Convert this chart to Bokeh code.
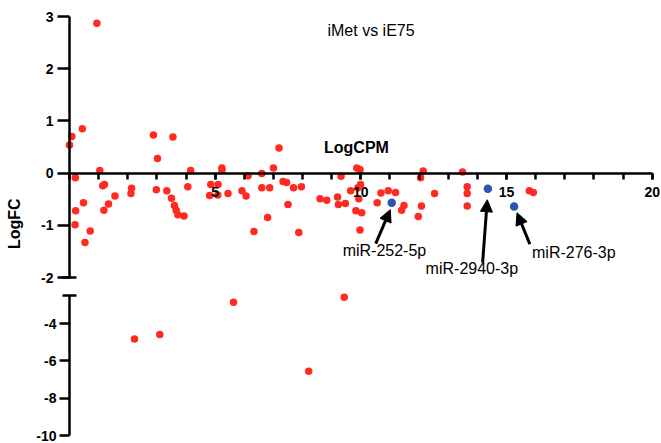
import numpy as np
from bokeh.plotting import figure
from bokeh.core.properties import value
from bokeh.models import (LinearAxis, SingleIntervalTicker, FixedTicker, Label, Arrow,
                          NormalHead, Range1d)
from bokeh.layouts import column
from bokeh.embed import file_html
from bokeh.resources import INLINE

# ---------------- data ----------------
logcpm = [0.94, 0.44, 0.08, 0.00, 2.88, 3.55, 3.02, 1.04, 4.16, 0.20,
          1.14, 1.20, 2.13, 2.11, 1.56, 1.34, 1.18, 0.48, 0.21, 0.19,
          0.71, 0.53, 2.98, 3.34, 3.50, 3.60, 3.66, 3.72, 3.93, 4.06,
          4.85, 4.81, 7.19, 5.23, 5.23, 7.00, 6.13, 6.60, 5.10, 5.09,
          5.44, 5.92, 6.06, 6.60, 6.87, 7.33, 7.45, 7.69, 7.96, 7.50,
          6.80, 6.33, 7.87, 8.60, 8.83, 9.20, 9.23, 9.47, 9.32, 9.86,
          9.97, 9.65, 9.90, 9.99, 9.93, 9.83, 10.03, 9.97, 10.56, 10.69,
          10.94, 11.19, 11.48, 11.40, 12.08, 11.97, 12.14, 12.05, 12.53, 13.49,
          13.65, 13.65, 13.65, 15.78, 15.92,
          2.23, 3.10, 5.63, 9.43, 8.21]
logfc = [2.87, 0.85, 0.70, 0.54, 0.73, 0.69, 0.28, 0.05, 0.05, -0.09,
         -0.24, -0.22, -0.29, -0.39, -0.44, -0.59, -0.71, -0.57, -0.72, -0.99,
         -1.11, -1.33, -0.32, -0.34, -0.48, -0.62, -0.71, -0.80, -0.82, -0.26,
         -0.22, -0.43, 0.48, 0.10, 0.06, 0.10, -0.05, -0.01, -0.22, -0.42,
         -0.39, -0.34, -0.44, -0.28, -0.28, -0.16, -0.18, -0.28, -0.26, -0.60,
         -0.85, -1.12, -1.14, -0.49, -0.52, -0.46, -0.60, -0.58, -0.06, 0.10,
         0.07, -0.34, -0.28, -0.22, -0.49, -0.72, -0.76, -1.09, -0.57, -0.38,
         -0.34, -0.37, -0.62, -0.71, -0.63, -0.83, 0.04, -0.09, -0.39, 0.02,
         -0.26, -0.39, -0.63, -0.34, -0.37,
         -4.83, -4.59, -2.86, -2.59, -6.56]

hl_names = ["miR-252-5p", "miR-2940-3p", "miR-276-3p"]
hl_logcpm = [11.06, 14.36, 15.26]
hl_logfc = [-0.57, -0.30, -0.64]

upper_yticks = [-2, -1, 0, 1, 2, 3]
lower_yticks = [-10, -8, -6, -4]

# ---------------- layout constants ----------------
FONT = "Liberation Sans"
W = 661
H1, H2 = 286, 157
XPX = (651.7 - 69) / 20
X0 = -69 / XPX
X1 = X0 + W / XPX
xr = Range1d(X0, X1)

Y1PX = 52.2
y1_top = 3 + 16 / Y1PX
y1_bot = y1_top - H1 / Y1PX
Y2PX = 140 / 7.5
y2_top = -2.5 + 9 / Y2PX
y2_bot = y2_top - H2 / Y2PX
UPPER_MIN, LOWER_MAX = -2, -2.5
CAP = 7 / XPX

RED = "#FF2A22"
BLUE = "#2C55AE"


def make_fig(h, y0, y1):
    p = figure(width=W, height=h, x_range=xr, y_range=Range1d(y0, y1),
               x_axis_type=None, y_axis_type=None, toolbar_location=None,
               output_backend="svg", min_border=0)
    p.outline_line_color = None
    p.background_fill_color = "white"
    p.border_fill_color = "white"
    return p


def style_axis(ax, tick_out, minor_out=0, standoff=3):
    ax.axis_line_width = 2.5
    ax.axis_line_color = "black"
    ax.major_tick_line_width = 2.5
    ax.minor_tick_line_width = 2.5
    ax.major_tick_out = tick_out
    ax.major_tick_in = 0
    ax.minor_tick_out = minor_out
    ax.minor_tick_in = 0
    ax.major_label_standoff = standoff
    ax.major_label_text_font = FONT
    ax.major_label_text_font_style = "bold"
    ax.major_label_text_font_size = "14px"
    ax.major_label_text_color = "black"


def y_tick_labels(p, ticks, gap_px):
    p.text(x=[-gap_px / XPX] * len(ticks), y=ticks, text=[str(t) for t in ticks],
           text_font=value(FONT), text_font_style="bold", text_font_size="14px",
           text_color="black", text_align="right", text_baseline="middle")


x_all = np.array(logcpm)
y_all = np.array(logfc)
up = y_all >= (UPPER_MIN + LOWER_MAX) / 2

# ---------------- upper panel ----------------
p1 = make_fig(H1, y1_bot, y1_top)

xaxis = LinearAxis(fixed_location=0, bounds=(0, 20),
                   ticker=SingleIntervalTicker(interval=5, num_minor_ticks=5))
style_axis(xaxis, 6, minor_out=6, standoff=8)
xaxis.major_label_overrides = {0: ""}
p1.add_layout(xaxis, "below")

yaxis1 = LinearAxis(fixed_location=0, bounds=(UPPER_MIN, 3),
                    ticker=FixedTicker(ticks=upper_yticks))
style_axis(yaxis1, 12)
yaxis1.major_label_text_color = None
p1.add_layout(yaxis1, "left")
y_tick_labels(p1, upper_yticks, 16)
p1.segment(x0=[-CAP], y0=[UPPER_MIN], x1=[CAP], y1=[UPPER_MIN],
           line_color="black", line_width=2.5)

p1.scatter(x_all[up], y_all[up], size=7.5, fill_color=RED, line_color=None)
p1.scatter(hl_logcpm, hl_logfc, size=8.5, fill_color=BLUE, line_color=None)

# highlighted labels and arrows (offsets relative to the highlighted points)
lab_dx = [-0.25, -0.55, 2.05]
lab_dy = [-0.92, -1.53, -0.88]
arr_start = [(-0.55, -0.78), (-0.18, -1.41), (0.54, -0.72)]
arr_end = [(-0.05, -0.13), (-0.02, -0.21), (0.10, -0.12)]
for nm, hx, hy, dx, dy, s, e in zip(hl_names, hl_logcpm, hl_logfc, lab_dx, lab_dy,
                                     arr_start, arr_end):
    p1.add_layout(Label(x=hx + dx, y=hy + dy, text=nm, text_align="center",
                        text_baseline="middle", text_font=FONT,
                        text_font_size="16px", text_color="black"))
    p1.add_layout(Arrow(end=NormalHead(size=12, fill_color="black", line_color="black"),
                        x_start=hx + s[0], y_start=hy + s[1],
                        x_end=hx + e[0], y_end=hy + e[1],
                        line_width=3, line_color="black"))

p1.add_layout(Label(x=10.35, y=2.73, text="iMet vs iE75", text_align="center",
                    text_baseline="middle", text_font=FONT, text_font_size="16px",
                    text_color="black"))
p1.add_layout(Label(x=9.85, y=0.49, text="LogCPM", text_align="center",
                    text_baseline="middle", text_font=FONT, text_font_size="16px",
                    text_font_style="bold", text_color="black"))
p1.add_layout(Label(x=-1.88, y=-0.97, text="LogFC", text_align="center",
                    text_baseline="middle", text_font=FONT, text_font_size="16px",
                    text_font_style="bold", text_color="black", angle=np.pi / 2))

# ---------------- lower panel ----------------
p2 = make_fig(H2, y2_bot, y2_top)
yaxis2 = LinearAxis(fixed_location=0, bounds=(-10, LOWER_MAX),
                    ticker=FixedTicker(ticks=lower_yticks))
style_axis(yaxis2, 10)
yaxis2.major_label_text_color = None
p2.add_layout(yaxis2, "left")
y_tick_labels(p2, lower_yticks, 13)
p2.segment(x0=[-CAP], y0=[LOWER_MAX], x1=[CAP], y1=[LOWER_MAX],
           line_color="black", line_width=2.5)
p2.scatter(x_all[~up], y_all[~up], size=7.5, fill_color=RED, line_color=None)

layout = column(p1, p2, spacing=0)
open("out.html", "w").write(file_html(layout, INLINE))
